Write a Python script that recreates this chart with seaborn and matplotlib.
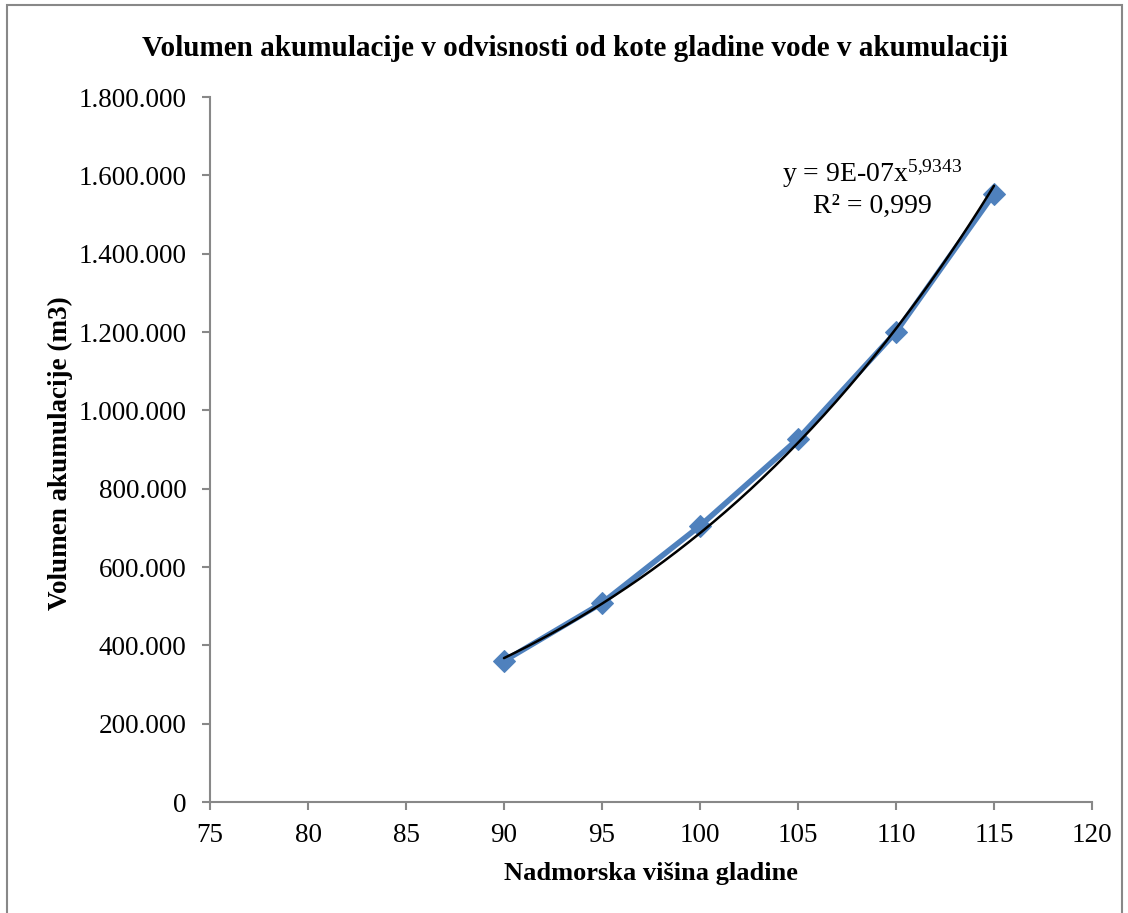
import numpy as np
import pandas as pd
import matplotlib
matplotlib.use("Agg")
import matplotlib.pyplot as plt
import matplotlib.ticker as mticker
from matplotlib.patches import Rectangle
import seaborn as sns

# Data
kota = [90, 95, 100, 105, 110, 115]
volumen = [360000, 508000, 705000, 927000, 1200000, 1553000]
x_ticks = [75, 80, 85, 90, 95, 100, 105, 110, 115, 120]
y_ticks = [0, 200000, 400000, 600000, 800000, 1000000, 1200000, 1400000, 1600000, 1800000]
title = "Volumen akumulacije v odvisnosti od kote gladine vode v akumulaciji"
xlabel = "Nadmorska višina gladine"
ylabel = "Volumen akumulacije (m3)"

sns.set_style("white")
plt.rcParams['font.family'] = ['Liberation Serif', 'DejaVu Serif']
plt.rcParams['text.color'] = 'black'
plt.rcParams['axes.labelcolor'] = 'black'
plt.rcParams['mathtext.fontset'] = 'custom'
plt.rcParams['mathtext.rm'] = 'Liberation Serif'

W, H = 1128, 913
fig = plt.figure(figsize=(W / 100, H / 100), dpi=100)
ax = fig.add_axes([210 / W, 1 - 802 / H, (1092 - 210) / W, (802 - 97) / H])

df = pd.DataFrame({"kota": kota, "volumen": volumen})
blue = "#4F81BD"
sns.lineplot(data=df, x="kota", y="volumen", ax=ax, color=blue, linewidth=4,
             marker="D", markersize=11, markeredgecolor=blue, markerfacecolor=blue, zorder=2)

# Power trendline fitted from data
b, loga = np.polyfit(np.log(kota), np.log(volumen), 1)
xs = np.linspace(min(kota), max(kota), 200)
ax.plot(xs, np.exp(loga) * xs ** b, color="black", linewidth=1.8, zorder=3)

ax.set_xlim(75, 120)
ax.set_ylim(0, 1800000)
ax.set_xticks(x_ticks)
ax.set_yticks(y_ticks)
ax.yaxis.set_major_formatter(mticker.FuncFormatter(lambda v, p: f"{int(v):,}".replace(",", ".")))

for s in ["top", "right"]:
    ax.spines[s].set_visible(False)
for s in ["left", "bottom"]:
    ax.spines[s].set_color("#888888")
    ax.spines[s].set_linewidth(1.5)
ax.tick_params(axis="y", pad=11)
ax.tick_params(axis="x", pad=9)
ax.tick_params(axis="both", direction="out", length=6, width=1.5, color="#888888",
               labelsize=19.5, labelcolor="black", left=True, bottom=True)

ax.set_xlabel(xlabel, fontsize=19, fontweight="bold", labelpad=10)
ax.set_ylabel(ylabel, fontsize=19.5, fontweight="bold", labelpad=4)
ax.yaxis.label.set_y(0.495)
fig.text(575 / W, 1 - 48 / H, title, ha="center", va="center",
         fontsize=21, fontweight="bold")

fig.text(872 / W, 1 - 174 / H, r"y = 9E-07x$\mathregular{^{5{,}9343}}$", ha="center", va="center", fontsize=20)
fig.text(872 / W, 1 - 206 / H, "R² = 0,999", ha="center", va="center", fontsize=20)

fig.patches.append(Rectangle((7 / W, -0.01), (1122 - 7) / W, 1 - 5 / H + 0.01,
                             transform=fig.transFigure, fill=False,
                             edgecolor="#888888", linewidth=1.5))

fig.savefig("out.png", dpi=100)
